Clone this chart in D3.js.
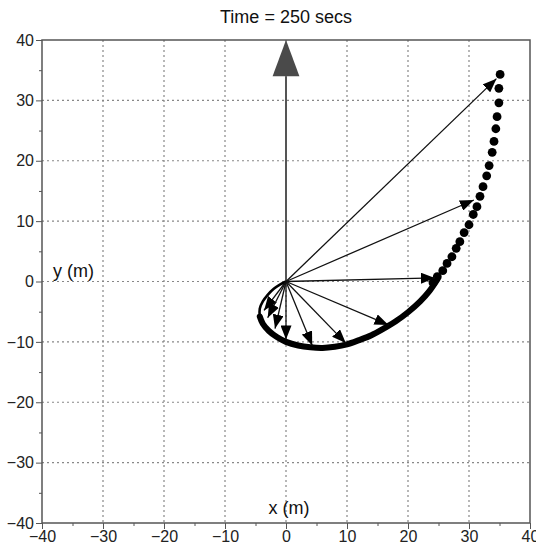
<!DOCTYPE html>
<html>
<head>
<meta charset="utf-8">
<script src="https://cdn.jsdelivr.net/npm/d3@7"></script>
<style>
  body { margin: 0; background: #fff; }
  text { font-family: "Liberation Sans", Arial, sans-serif; }
</style>
</head>
<body>
<div id="chart"></div>
<script>
// axis ticks
var majorTicks = [-40, -30, -20, -10, 0, 10, 20, 30, 40];
var minorTicks = [-35, -25, -15, -5, 5, 15, 25, 35];

// trajectory: thin loop, then the thick slow part, then the dotted fast part
var loopPath = [[0, 0], [-1, -0.5], [-2, -1.2], [-3, -2.2], [-3.8, -3.3], [-4.3, -4.5], [-4.3, -5.8]];
var slowPath = [[-4.3, -5.8], [-3.8, -7], [-2.8, -8.2], [-1.5, -9.2], [0, -10], [2, -10.6], [4, -10.9],
  [6, -11], [8, -10.8], [10, -10.4], [12, -9.7], [14, -8.9], [16, -7.8], [18, -6.6], [20, -5.1],
  [22, -3.3], [23.5, -1.6], [24.8, 0.3]];
var fastDots = [[24.1, -0.2], [24.8, 0.8], [25.7, 1.8], [26.4, 3], [27.2, 4.1], [27.9, 5.5], [28.5, 6.6],
  [29.2, 8.1], [30, 9.4], [30.7, 11.1], [31.3, 12.4], [31.8, 14.1], [32.3, 15.7], [32.9, 17.5],
  [33.3, 19.2], [33.8, 21.4], [34.1, 23.2], [34.4, 25.3], [34.6, 27.3], [34.9, 29.6], [34.9, 32], [35.1, 34.3]];

// position vectors drawn from the origin
var arrowTips = [[-3.6, -4.8], [-3.0, -6.0], [-1.8, -7.8], [0, -9.6], [4.3, -10.6], [9.8, -10.2],
  [16.8, -7.2], [24.4, 0.6], [30.8, 13.5], [34.5, 33.6]];

var W = 536, H = 552;
var margin = {left: 42, right: 6, top: 40, bottom: 29};

var svg = d3.select('#chart').append('svg')
  .attr('width', W).attr('height', H);

var x = d3.scaleLinear().domain([-40, 40]).range([margin.left, W - margin.right]);
var y = d3.scaleLinear().domain([-40, 40]).range([H - margin.bottom, margin.top]);

svg.append('defs').append('marker')
  .attr('id', 'head')
  .attr('viewBox', '0 0 14 11')
  .attr('refX', 14).attr('refY', 5.5)
  .attr('markerWidth', 14).attr('markerHeight', 11)
  .attr('markerUnits', 'userSpaceOnUse')
  .attr('orient', 'auto')
  .append('path').attr('d', 'M0,0 L14,5.5 L0,11 Z').attr('fill', '#000');

// grid
var grid = svg.append('g').attr('stroke', '#888').attr('stroke-width', 1.2).attr('stroke-dasharray', '2,3');
grid.selectAll('.gx').data(majorTicks.slice(1, -1)).enter().append('line')
  .attr('x1', d => x(d)).attr('x2', d => x(d)).attr('y1', y(40)).attr('y2', y(-40));
grid.selectAll('.gy').data(majorTicks.slice(1, -1)).enter().append('line')
  .attr('y1', d => y(d)).attr('y2', d => y(d)).attr('x1', x(-40)).attr('x2', x(40));

// axes
svg.append('g').attr('transform', 'translate(0,' + y(-40) + ')')
  .call(d3.axisBottom(x).tickValues(majorTicks).tickSize(6).tickSizeOuter(0).tickPadding(2));
svg.append('g').attr('transform', 'translate(0,' + y(-40) + ')')
  .call(d3.axisBottom(x).tickValues(minorTicks).tickSize(3).tickFormat(''));
svg.append('g').attr('transform', 'translate(' + x(-40) + ',0)')
  .call(d3.axisLeft(y).tickValues(majorTicks).tickSize(6).tickSizeOuter(0).tickPadding(2));
svg.append('g').attr('transform', 'translate(' + x(-40) + ',0)')
  .call(d3.axisLeft(y).tickValues(minorTicks).tickSize(3).tickFormat(''));
svg.selectAll('.domain').remove();
svg.selectAll('.tick line').attr('stroke', '#555');
svg.selectAll('.tick text').attr('font-size', 16).attr('fill', '#222')
  .style('font-family', '"Liberation Sans", Arial, sans-serif');

// frame
svg.append('rect')
  .attr('x', x(-40)).attr('y', y(40))
  .attr('width', x(40) - x(-40)).attr('height', y(-40) - y(40))
  .attr('fill', 'none').attr('stroke', '#555').attr('stroke-width', 1.5);

// vertical reference arrow (grey)
svg.append('line')
  .attr('x1', x(0)).attr('y1', y(0)).attr('x2', x(0)).attr('y2', y(34))
  .attr('stroke', '#555').attr('stroke-width', 2);
svg.append('path')
  .attr('d', 'M' + x(0) + ',' + y(40) + ' L' + x(2.2) + ',' + y(34) + ' L' + x(-2.2) + ',' + y(34) + ' Z')
  .attr('fill', '#4a4a4a');

// trajectory
var line = d3.line().x(d => x(d[0])).y(d => y(d[1])).curve(d3.curveCatmullRom);
svg.append('path').datum(loopPath).attr('d', line)
  .attr('fill', 'none').attr('stroke', '#000').attr('stroke-width', 2.6);
svg.append('path').datum(slowPath).attr('d', line)
  .attr('fill', 'none').attr('stroke', '#000').attr('stroke-width', 6).attr('stroke-linecap', 'round');
svg.selectAll('.dot').data(fastDots).enter().append('circle')
  .attr('cx', d => x(d[0])).attr('cy', d => y(d[1])).attr('r', 4.4).attr('fill', '#000');

// vectors
svg.selectAll('.vec').data(arrowTips).enter().append('line')
  .attr('x1', x(0)).attr('y1', y(0))
  .attr('x2', d => x(d[0])).attr('y2', d => y(d[1]))
  .attr('stroke', '#111').attr('stroke-width', 1.3)
  .attr('marker-end', 'url(#head)');

// labels
svg.append('text').attr('x', x(0)).attr('y', 23).attr('text-anchor', 'middle')
  .attr('font-size', 18).attr('fill', '#111').text('Time = 250 secs');
svg.append('text').attr('x', 53).attr('y', y(0) - 5)
  .attr('font-size', 18).attr('fill', '#111').text('y (m)');
svg.append('text').attr('x', x(0) + 3).attr('y', y(-40) - 9).attr('text-anchor', 'middle')
  .attr('font-size', 18).attr('fill', '#111').text('x (m)');
</script>
</body>
</html>
